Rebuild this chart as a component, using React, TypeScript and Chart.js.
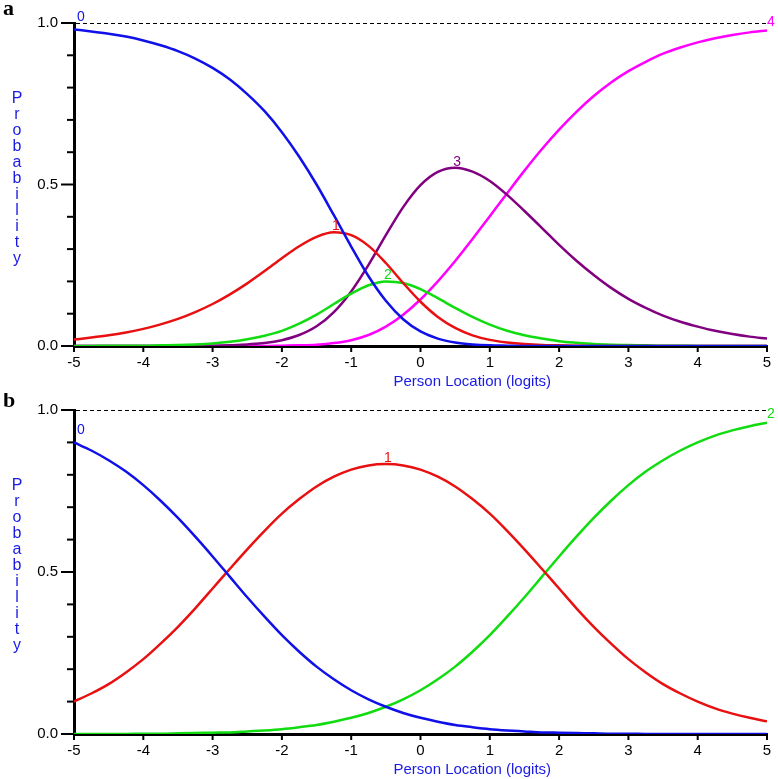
import React, { useEffect, useRef } from "react";
import { Chart, registerables } from "chart.js";

Chart.register(...registerables);

// Person location (logits)
const xs = [
  -5, -4.75, -4.5, -4.25, -4, -3.75, -3.5, -3.25, -3, -2.75, -2.5, -2.25, -2, -1.75, -1.5, -1.25, -1, -0.75, -0.5, -0.25,
  0, 0.25, 0.5, 0.75, 1, 1.25, 1.5, 1.75, 2, 2.25, 2.5, 2.75, 3, 3.25, 3.5, 3.75, 4, 4.25, 4.5, 4.75, 5,
];

// Panel a: five category probability curves
const aCat0 = [
  0.98, 0.974, 0.967, 0.958, 0.946, 0.931, 0.913, 0.89, 0.861, 0.825, 0.78, 0.727, 0.662, 0.586, 0.5, 0.405, 0.308, 0.216, 0.14, 0.083,
  0.045, 0.023, 0.011, 0.005, 0.002, 0.001, 0, 0, 0, 0, 0, 0, 0, 0, 0, 0, 0, 0, 0, 0, 0,
];
const aCat1 = [
  0.02, 0.026, 0.033, 0.042, 0.053, 0.067, 0.084, 0.105, 0.13, 0.16, 0.194, 0.232, 0.272, 0.309, 0.338, 0.352, 0.343, 0.31, 0.257, 0.195,
  0.137, 0.09, 0.056, 0.033, 0.019, 0.011, 0.006, 0.003, 0.002, 0.001, 0, 0, 0, 0, 0, 0, 0, 0, 0, 0, 0,
];
const aCat2 = [
  0, 0, 0.001, 0.001, 0.001, 0.002, 0.003, 0.005, 0.008, 0.013, 0.021, 0.032, 0.047, 0.069, 0.097, 0.13, 0.162, 0.188, 0.2, 0.195,
  0.176, 0.148, 0.118, 0.09, 0.066, 0.047, 0.033, 0.023, 0.015, 0.01, 0.006, 0.004, 0.003, 0.002, 0.001, 0.001, 0, 0, 0, 0, 0,
];
const aCat3 = [
  0, 0, 0, 0, 0, 0, 0, 0.001, 0.001, 0.002, 0.005, 0.009, 0.018, 0.034, 0.061, 0.105, 0.169, 0.251, 0.343, 0.43,
  0.498, 0.539, 0.552, 0.54, 0.511, 0.468, 0.418, 0.366, 0.313, 0.264, 0.22, 0.18, 0.146, 0.118, 0.094, 0.075, 0.06, 0.047, 0.037, 0.029, 0.023,
];
const aCat4 = [
  0, 0, 0, 0, 0, 0, 0, 0, 0, 0, 0, 0, 0.001, 0.002, 0.004, 0.009, 0.018, 0.034, 0.06, 0.097,
  0.144, 0.2, 0.263, 0.331, 0.402, 0.473, 0.543, 0.609, 0.67, 0.725, 0.774, 0.816, 0.851, 0.88, 0.905, 0.924, 0.94, 0.953, 0.963, 0.971, 0.977,
];

// Panel b: three category probability curves
const bCat0 = [
  0.9, 0.875, 0.845, 0.81, 0.768, 0.72, 0.667, 0.609, 0.548, 0.485, 0.422, 0.362, 0.305, 0.254, 0.208, 0.169, 0.135, 0.107, 0.084, 0.065,
  0.05, 0.038, 0.028, 0.021, 0.015, 0.011, 0.008, 0.005, 0.004, 0.003, 0.002, 0.001, 0.001, 0, 0, 0, 0, 0, 0, 0, 0,
];
const bCat1 = [
  0.1, 0.125, 0.154, 0.19, 0.231, 0.279, 0.331, 0.388, 0.449, 0.51, 0.57, 0.627, 0.68, 0.725, 0.764, 0.794, 0.816, 0.829, 0.833, 0.829,
  0.816, 0.794, 0.764, 0.725, 0.68, 0.627, 0.57, 0.51, 0.449, 0.388, 0.331, 0.279, 0.231, 0.19, 0.154, 0.125, 0.1, 0.079, 0.063, 0.05, 0.039,
];
const bCat2 = [
  0, 0, 0, 0, 0.001, 0.001, 0.002, 0.003, 0.004, 0.005, 0.008, 0.011, 0.015, 0.021, 0.028, 0.038, 0.05, 0.065, 0.084, 0.107,
  0.135, 0.169, 0.208, 0.254, 0.305, 0.362, 0.422, 0.485, 0.548, 0.609, 0.667, 0.72, 0.768, 0.81, 0.845, 0.875, 0.9, 0.921, 0.937, 0.95, 0.961,
];

const catLabelsA = ["0", "1", "2", "3", "4"];
const catLabelsB = ["0", "1", "2"];
const colorsA = ["#1010e8", "#e81010", "#10dc10", "#800080", "#ff00ff"];
const colorsB = ["#1010e8", "#e81010", "#10dc10"];
const xTickValues = [-5, -4, -3, -2, -1, 0, 1, 2, 3, 4, 5];
const yTitle = "Probability";
const xTitle = "Person Location (logits)";
const titleBlue = "#1a1ae6";

const decorPlugin = {
  id: "decor",
  beforeDatasetsDraw(chart: any, _args: any, opts: any) {
    const { ctx, chartArea, scales } = chart;
    const xS = scales.x;
    const yS = scales.y;
    ctx.save();
    // dashed line at 1.0
    ctx.strokeStyle = "#000";
    ctx.lineWidth = 1;
    ctx.setLineDash([4, 3]);
    const y1 = Math.round(yS.getPixelForValue(1)) + 0.5;
    ctx.beginPath();
    ctx.moveTo(chartArea.left + 2, y1);
    ctx.lineTo(chartArea.right, y1);
    ctx.stroke();
    ctx.setLineDash([]);
    // y tick marks
    ctx.lineWidth = 2;
    for (let i = 0; i <= 10; i++) {
      const py = yS.getPixelForValue(i / 10);
      const len = i % 5 === 0 ? 13 : 7;
      ctx.beginPath();
      ctx.moveTo(chartArea.left - len, py);
      ctx.lineTo(chartArea.left, py);
      ctx.stroke();
    }
    // x tick marks
    xTickValues.forEach((v) => {
      const px = xS.getPixelForValue(v);
      ctx.beginPath();
      ctx.moveTo(px, chartArea.bottom);
      ctx.lineTo(px, chartArea.bottom + 6);
      ctx.stroke();
    });
    // x title
    ctx.fillStyle = titleBlue;
    ctx.font = '15px "Liberation Sans"';
    ctx.textAlign = "left";
    ctx.textBaseline = "middle";
    ctx.fillText(xTitle, chartArea.left + (chartArea.right - chartArea.left) * 0.461, chartArea.bottom + 36);
    // y title, letters stacked
    ctx.font = '16px "Liberation Sans"';
    ctx.textAlign = "center";
    const letters = yTitle.split("");
    const cy = (chartArea.top + chartArea.bottom) / 2 - 6;
    letters.forEach((ch, i) => {
      ctx.fillText(ch, 17, cy + (i - (letters.length - 1) / 2) * 16);
    });
    // panel letter
    ctx.fillStyle = "#000";
    ctx.font = 'bold 22px "Liberation Serif"';
    ctx.textAlign = "left";
    ctx.textBaseline = "alphabetic";
    ctx.fillText(opts.letter, 3, opts.letterY);
    ctx.restore();
  },
  afterDatasetsDraw(chart: any) {
    const { ctx } = chart;
    ctx.save();
    ctx.font = '14px "Liberation Sans"';
    ctx.textAlign = "center";
    ctx.textBaseline = "bottom";
    chart.data.datasets.forEach((ds: any, i: number) => {
      const meta = chart.getDatasetMeta(i);
      const vals = ds.data.map((p: any) => p.y);
      let mi = 0;
      vals.forEach((v: number, j: number) => {
        if (v > vals[mi]) mi = j;
      });
      const pt = meta.data[mi];
      let tx = pt.x + 2;
      let ty = pt.y + 1;
      if (mi === 0) {
        tx = pt.x + 7;
        ty = pt.y - 5;
      } else if (mi === vals.length - 1) {
        tx = pt.x + 4;
        ty = pt.y - 1;
      }
      ctx.fillStyle = ds.borderColor;
      ctx.fillText(ds.label, tx, ty);
    });
    ctx.restore();
  },
};

function makeConfig(series: number[][], labels: string[], colors: string[], letter: string, letterY: number, padTop: number, xHeight: number) {
  return {
    type: "line" as const,
    data: {
      datasets: series.map((s, i) => ({
        label: labels[i],
        data: xs.map((x, j) => ({ x, y: s[j] })),
        borderColor: colors[i],
        backgroundColor: colors[i],
        borderWidth: 2.5,
        pointRadius: 0,
        cubicInterpolationMode: "monotone" as const,
        fill: false,
      })),
    },
    options: {
      responsive: false,
      animation: false as const,
      layout: { padding: { top: padTop, right: 11, left: 0, bottom: 0 } },
      plugins: {
        legend: { display: false },
        tooltip: { enabled: false },
        decor: { letter, letterY },
      },
      scales: {
        x: {
          type: "linear" as const,
          min: -5,
          max: 5,
          grid: { display: true, drawOnChartArea: false, drawTicks: false },
          border: { display: true, color: "#000", width: 3 },
          ticks: {
            stepSize: 1,
            padding: 8,
            color: "#000",
            font: { family: '"Liberation Sans"', size: 15 },
            callback: (v: any) => String(v),
          },
          afterFit: (scale: any) => {
            scale.height = xHeight;
            scale.paddingLeft = 0;
            scale.paddingRight = 0;
          },
        },
        y: {
          min: 0,
          max: 1,
          grid: { display: true, drawOnChartArea: false, drawTicks: false },
          border: { display: true, color: "#000", width: 3 },
          ticks: {
            stepSize: 0.5,
            padding: 16,
            color: "#000",
            font: { family: '"Liberation Sans"', size: 15 },
            callback: (v: any) => Number(v).toFixed(1),
          },
          afterFit: (scale: any) => {
            scale.width = 74;
            scale.paddingTop = 0;
            scale.paddingBottom = 0;
          },
        },
      },
    },
    plugins: [decorPlugin],
  };
}

function Panel(props: { series: number[][]; labels: string[]; colors: string[]; letter: string; letterY: number; top: number; height: number; padTop: number; xHeight: number }) {
  const ref = useRef<HTMLCanvasElement | null>(null);
  useEffect(() => {
    if (!ref.current) return;
    const chart = new Chart(ref.current, makeConfig(props.series, props.labels, props.colors, props.letter, props.letterY, props.padTop, props.xHeight) as any);
    return () => chart.destroy();
  }, []);
  return (
    <canvas
      ref={ref}
      width={778}
      height={props.height}
      style={{ position: "absolute", left: 0, top: props.top, width: 778, height: props.height, display: "block" }}
    />
  );
}

export default function App() {
  return (
    <div style={{ position: "absolute", left: 0, top: 0, width: 778, height: 779, background: "#fff", overflow: "hidden" }}>
      <Panel
        series={[aCat0, aCat1, aCat2, aCat3, aCat4]}
        labels={catLabelsA}
        colors={colorsA}
        letter="a"
        letterY={15}
        top={0}
        height={393}
        padTop={23}
        xHeight={47}
      />
      <Panel
        series={[bCat0, bCat1, bCat2]}
        labels={catLabelsB}
        colors={colorsB}
        letter="b"
        letterY={14}
        top={393}
        height={386}
        padTop={17}
        xHeight={45}
      />
    </div>
  );
}
